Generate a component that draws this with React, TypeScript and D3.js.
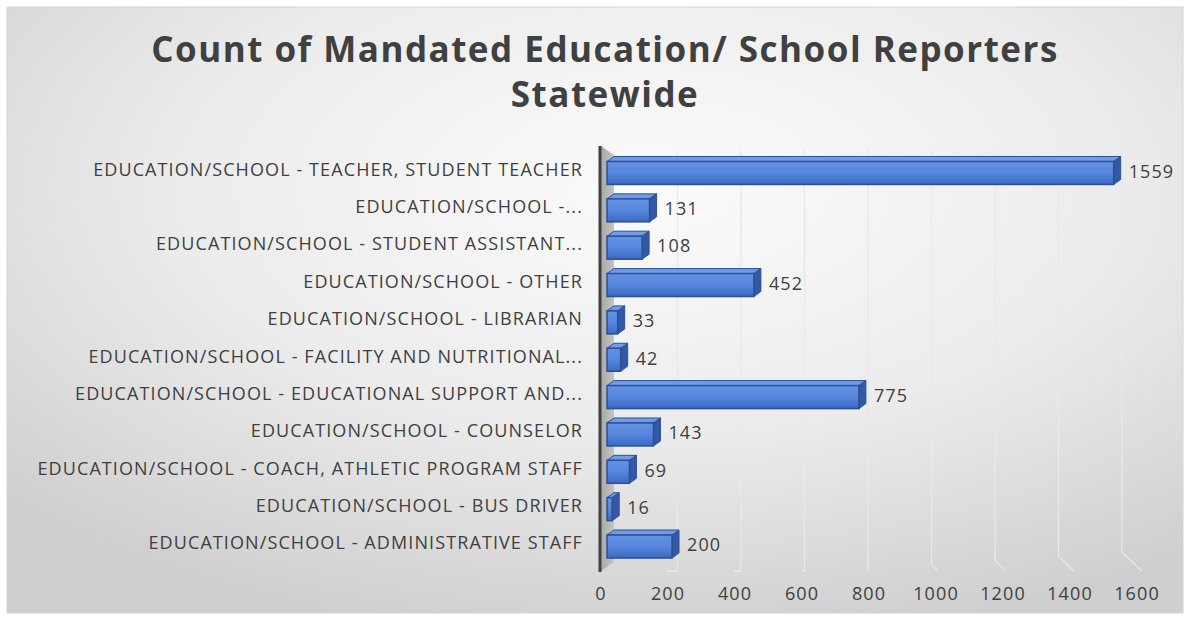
import React from "react";
import * as d3 from "d3";

const categories = [
  "EDUCATION/SCHOOL - TEACHER, STUDENT TEACHER",
  "EDUCATION/SCHOOL -...",
  "EDUCATION/SCHOOL - STUDENT ASSISTANT...",
  "EDUCATION/SCHOOL - OTHER",
  "EDUCATION/SCHOOL - LIBRARIAN",
  "EDUCATION/SCHOOL - FACILITY AND NUTRITIONAL...",
  "EDUCATION/SCHOOL - EDUCATIONAL SUPPORT AND...",
  "EDUCATION/SCHOOL - COUNSELOR",
  "EDUCATION/SCHOOL - COACH, ATHLETIC PROGRAM STAFF",
  "EDUCATION/SCHOOL - BUS DRIVER",
  "EDUCATION/SCHOOL - ADMINISTRATIVE STAFF",
];
const values = [1559, 131, 108, 452, 33, 42, 775, 143, 69, 16, 200];
const ticks = [0, 200, 400, 600, 800, 1000, 1200, 1400, 1600];
const titleLines = ["Count of Mandated Education/ School Reporters", "Statewide"];

const W = 1189;
const H = 621;
const FONT = "'Open Sans', 'Noto Sans', sans-serif";
const TXT = "#404040";
const SMALL = 18;
const SPACING = 1.1;

export default function App() {
  const xFront = d3.scaleLinear().domain([0, 1600]).range([607, 1127]);
  const xBack = d3.scaleLinear().domain([0, 1600]).range([614, 1122]);
  const xFloor = d3.scaleLinear().domain([0, 1600]).range([598, 1142]);
  const xLabel = d3.scaleLinear().domain([0, 1600]).range([601, 1137]);
  const y = d3.scaleBand<string>().domain(categories).range([154.3, 565.2]).padding(0);
  const barH = 23;
  const dx = 7;
  const dy = -5;
  const x0 = xFront(0);

  return (
    <svg width={W} height={H} style={{ position: "absolute", left: 0, top: 0 }}>
      <defs>
        <radialGradient id="bg" cx="0.55" cy="0.3" r="0.75">
          <stop offset="0" stopColor="#fbfbfb" />
          <stop offset="0.55" stopColor="#ebebeb" />
          <stop offset="1" stopColor="#cfcfcf" />
        </radialGradient>
        <linearGradient id="front" x1="0" y1="0" x2="0" y2="1">
          <stop offset="0" stopColor="#6392e6" />
          <stop offset="0.5" stopColor="#5686de" />
          <stop offset="1" stopColor="#3d69c0" />
        </linearGradient>
        <linearGradient id="wall" x1="0" y1="0" x2="1" y2="0">
          <stop offset="0" stopColor="#a9a9a9" />
          <stop offset="1" stopColor="#c4c4c4" />
        </linearGradient>
      </defs>
      <rect x={0} y={0} width={W} height={H} fill="#ffffff" />
      <rect x={7} y={7} width={1176} height={606} fill="url(#bg)" stroke="#d4d4d4" strokeWidth={1} />

      {titleLines.map((t, i) => (
        <text
          key={t}
          x={605}
          y={62 + i * 45}
          textAnchor="middle"
          fontFamily={FONT}
          fontWeight={700}
          fontSize={35}
          letterSpacing={1.5}
          fill={TXT}
        >
          {t}
        </text>
      ))}

      {/* gridlines */}
      {ticks.filter((t) => t > 0).map((t) => {
        const xb = xBack(t);
        const xf = xFloor(t);
        const yBreak = 571 - Math.max(0, xf - xb) * 0.95;
        return (
          <path
            key={t}
            d={`M${xb},150 V${yBreak} L${xf},571`}
            fill="none"
            stroke="#e9e9e9"
            strokeWidth={1.3}
          />
        );
      })}

      {/* side wall */}
      <polygon points="601,146 614,155 614,562 601,571" fill="url(#wall)" />
      <line x1={600} y1={146} x2={600} y2={572} stroke={TXT} strokeWidth={3} />

      {/* bars */}
      {categories.map((c, i) => {
        const v = values[i];
        const cy = (y(c) as number) + y.bandwidth() / 2;
        const yt = cy - barH / 2;
        const yb = cy + barH / 2;
        const x1 = xFront(v);
        return (
          <g key={c}>
            <polygon
              points={`${x0},${yt} ${x0 + dx},${yt + dy} ${x1 + dx},${yt + dy} ${x1},${yt}`}
              fill="#6d9cec"
              stroke="#2f528f"
              strokeWidth={1}
              strokeLinejoin="round"
            />
            <polygon
              points={`${x1},${yt} ${x1 + dx},${yt + dy} ${x1 + dx},${yb + dy} ${x1},${yb}`}
              fill="#3258a6"
              stroke="#2f528f"
              strokeWidth={1}
              strokeLinejoin="round"
            />
            <rect
              x={x0}
              y={yt}
              width={x1 - x0}
              height={barH}
              fill="url(#front)"
              stroke="#2f4f8f"
              strokeWidth={1.5}
            />
            <text
              x={x1 + dx + 8}
              y={cy}
              dominantBaseline="middle"
              fontFamily={FONT}
              fontSize={SMALL}
              letterSpacing={SPACING}
              fill={TXT}
            >
              {v}
            </text>
            <text
              x={583}
              y={cy - 2}
              textAnchor="end"
              dominantBaseline="middle"
              fontFamily={FONT}
              fontSize={SMALL}
              letterSpacing={SPACING}
              fill={TXT}
            >
              {c}
            </text>
          </g>
        );
      })}

      {ticks.map((t) => (
        <text
          key={t}
          x={xLabel(t)}
          y={595}
          textAnchor="middle"
          dominantBaseline="middle"
          fontFamily={FONT}
          fontSize={SMALL}
          letterSpacing={SPACING}
          fill={TXT}
        >
          {t}
        </text>
      ))}
    </svg>
  );
}
